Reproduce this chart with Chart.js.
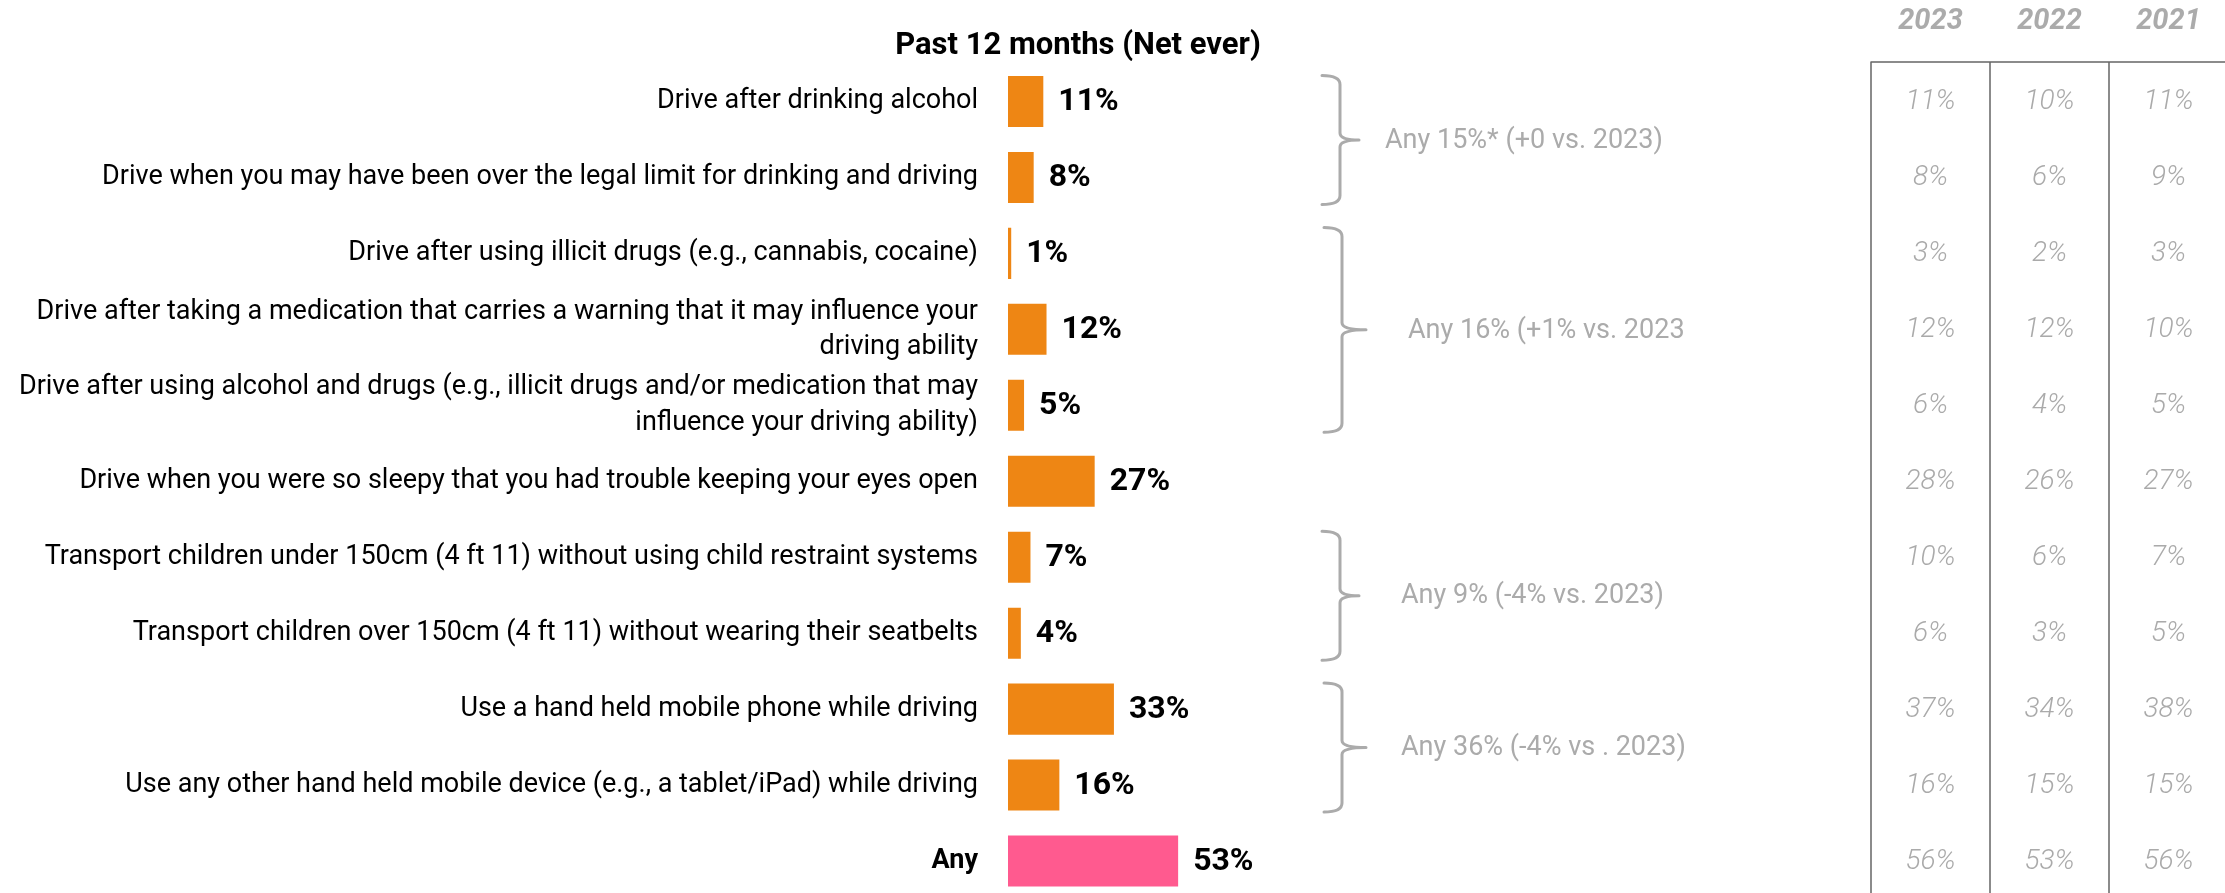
<!DOCTYPE html>
<html>
<head>
<meta charset="utf-8">
<script src="https://cdn.jsdelivr.net/npm/chart.js@4.4.1/dist/chart.umd.min.js"></script>
<style>
  html, body { margin: 0; padding: 0; background: #fff; overflow: hidden; }
  #wrap { width: 2225px; height: 959px; }
</style>
</head>
<body>
<div id="wrap"><canvas id="myChart" width="2225" height="959"></canvas></div>
<script>
// categories (multi-line labels are arrays)
const categories = [
  'Drive after drinking alcohol',
  'Drive when you may have been over the legal limit for drinking and driving',
  'Drive after using illicit drugs (e.g., cannabis, cocaine)',
  ['Drive after taking a medication that carries a warning that it may influence your', 'driving ability'],
  ['Drive after using alcohol and drugs (e.g., illicit drugs and/or medication that may', 'influence your driving ability)'],
  'Drive when you were so sleepy that you had trouble keeping your eyes open',
  'Transport children under 150cm (4 ft 11) without using child restraint systems',
  'Transport children over 150cm (4 ft 11) without wearing their seatbelts',
  'Use a hand held mobile phone while driving',
  'Use any other hand held mobile device (e.g., a tablet/iPad) while driving',
  'Any'
];

// past 12 months (net ever), %
const current = [11, 8, 1, 12, 5, 27, 7, 4, 33, 16, 53];

// comparison table
const years = ['2023', '2022', '2021'];
const y2023 = [11, 8, 3, 12, 6, 28, 10, 6, 37, 16, 56];
const y2022 = [10, 6, 2, 12, 4, 26, 6, 3, 34, 15, 53];
const y2021 = [11, 9, 3, 10, 5, 27, 7, 5, 38, 15, 56];

// bracket groups
const groupFrom = [0, 2, 6, 8];
const groupTo = [1, 4, 7, 9];
const groupText = [
  'Any 15%* (+0 vs. 2023)',
  'Any 16% (+1% vs. 2023',
  'Any 9% (-4% vs. 2023)',
  'Any 36% (-4% vs . 2023)'
];

const FONT = 'Roboto, "Noto Sans", sans-serif';
const ORANGE = '#EE8614';
const PINK = '#FF5A8F';
const GREY = '#ABABAB';

const barColors = current.map((v, i) => (i === current.length - 1 ? PINK : ORANGE));

// bracket styling (x positions, tip sizes, text gaps)
const bracketStyle = [
  { x: 1340, tip: 19, gap: 26 },
  { x: 1342, tip: 24, gap: 42 },
  { x: 1340, tip: 19, gap: 42 },
  { x: 1342, tip: 24, gap: 35 }
];

const extras = {
  id: 'extras',
  afterDatasetsDraw(chart) {
    const ctx = chart.ctx;
    const yScale = chart.scales.y;
    const meta = chart.getDatasetMeta(0);
    const area = chart.chartArea;

    ctx.save();

    // title
    ctx.fillStyle = '#000';
    ctx.font = 'bold 31px ' + FONT;
    ctx.textAlign = 'center';
    ctx.textBaseline = 'middle';
    ctx.fillText('Past 12 months (Net ever)', area.left + 70, 46);

    // value labels
    ctx.font = 'bold 32px ' + FONT;
    ctx.textAlign = 'left';
    meta.data.forEach((bar, i) => {
      ctx.fillText(current[i] + '%', bar.x + 15, bar.y + 1);
    });

    // brackets
    ctx.strokeStyle = GREY;
    ctx.lineWidth = 3;
    ctx.lineCap = 'round';
    groupFrom.forEach((from, g) => {
      const st = bracketStyle[g];
      const y0 = yScale.getPixelForValue(from) - 26;
      const y1 = yScale.getPixelForValue(groupTo[g]) + 27;
      const ym = (y0 + y1) / 2;
      const x = st.x;
      ctx.beginPath();
      ctx.moveTo(x - 18, y0);
      ctx.quadraticCurveTo(x, y0, x, y0 + 9);
      ctx.lineTo(x, ym - 7);
      ctx.quadraticCurveTo(x, ym, x + st.tip, ym);
      ctx.moveTo(x + st.tip, ym);
      ctx.quadraticCurveTo(x, ym, x, ym + 7);
      ctx.lineTo(x, y1 - 9);
      ctx.quadraticCurveTo(x, y1, x - 18, y1);
      ctx.stroke();

      ctx.fillStyle = GREY;
      ctx.font = '27px ' + FONT;
      ctx.textAlign = 'left';
      ctx.fillText(groupText[g], x + st.tip + st.gap, ym + 1);
    });

    // comparison table
    const colLeft = 1871;
    const colW = 119;
    const lineTop = 62;
    ctx.strokeStyle = '#666';
    ctx.lineWidth = 1.5;
    ctx.beginPath();
    ctx.moveTo(colLeft, lineTop);
    ctx.lineTo(chart.width, lineTop);
    for (let c = 0; c < 3; c++) {
      ctx.moveTo(colLeft + c * colW, lineTop);
      ctx.lineTo(colLeft + c * colW, chart.height);
    }
    ctx.stroke();

    const cols = [y2023, y2022, y2021];
    ctx.textAlign = 'center';
    years.forEach((yr, c) => {
      const cx = colLeft + c * colW + colW / 2;
      ctx.fillStyle = GREY;
      ctx.font = 'italic bold 29px ' + FONT;
      ctx.fillText(yr, cx, 22);
      ctx.fillStyle = '#AAAAAA';
      ctx.font = 'italic 300 28px ' + FONT;
      cols[c].forEach((v, i) => {
        ctx.fillText(v + '%', cx, yScale.getPixelForValue(i) + 1);
      });
    });

    ctx.restore();
  }
};

const ctx = document.getElementById('myChart').getContext('2d');
const myChart = new Chart(ctx, {
  type: 'bar',
  data: {
    labels: categories,
    datasets: [
      {
        label: 'Past 12 months',
        data: current,
        backgroundColor: barColors,
        borderWidth: 0,
        categoryPercentage: 1,
        barPercentage: 0.672,
      },
    ],
  },
  options: {
    indexAxis: 'y',
    responsive: false,
    animation: false,
    devicePixelRatio: 1,
    layout: {
      padding: { top: 63.5, bottom: 60, left: 0, right: 896 },
    },
    plugins: {
      legend: { display: false },
      tooltip: { enabled: false },
      title: { display: false },
    },
    scales: {
      x: {
        display: false,
        min: 0,
        max: 100,
      },
      y: {
        grid: { display: false, drawTicks: false },
        border: { display: false },
        afterFit(scale) {
          scale.width = 1008;
        },
        ticks: {
          padding: 30,
          color: '#000',
          autoSkip: false,
          font: (c) => ({
            family: FONT,
            size: 27,
            lineHeight: 1.3,
            weight: c.index === categories.length - 1 ? 'bold' : 'normal',
          }),
        },
      },
    },
  },
  plugins: [extras],
});
</script>
</body>
</html>
